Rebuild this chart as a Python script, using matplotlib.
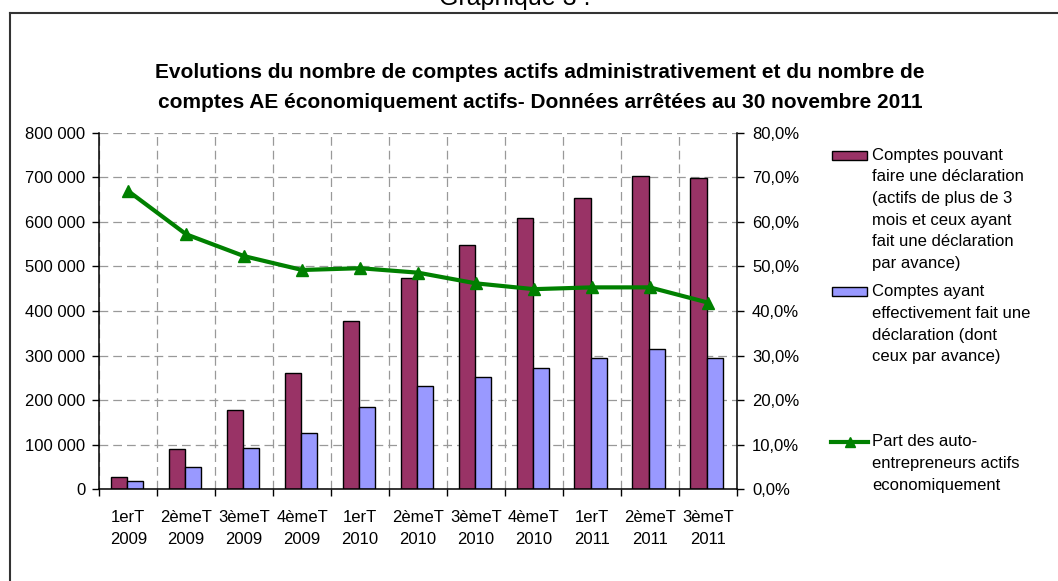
import matplotlib
matplotlib.use("Agg")
import matplotlib.pyplot as plt
from matplotlib.patches import Rectangle
from matplotlib.lines import Line2D
from matplotlib.ticker import FuncFormatter, MultipleLocator
import numpy as np

plt.rcParams['font.family'] = ['Liberation Sans', 'DejaVu Sans']

categories = ["1erT\n2009", "2èmeT\n2009", "3èmeT\n2009", "4èmeT\n2009",
              "1erT\n2010", "2èmeT\n2010", "3èmeT\n2010", "4èmeT\n2010",
              "1erT\n2011", "2èmeT\n2011", "3èmeT\n2011"]
comptes_pouvant = [27000, 90000, 179000, 260000, 377000, 474000, 547000,
                   608000, 653000, 702000, 699000]
comptes_ayant = [18000, 51000, 93000, 127000, 185000, 231000, 253000,
                 273000, 295000, 315000, 295000]
part_actifs = [0.669, 0.572, 0.523, 0.492, 0.496, 0.486, 0.462,
               0.449, 0.453, 0.453, 0.419]

label_pouvant = ["Comptes pouvant", "faire une déclaration", "(actifs de plus de 3",
                 "mois et ceux ayant", "fait une déclaration", "par avance)"]
label_ayant = ["Comptes ayant", "effectivement fait une", "déclaration (dont",
               "ceux par avance)"]
label_part = ["Part des auto-", "entrepreneurs actifs", "economiquement"]

title_lines = ["Evolutions du nombre de comptes actifs administrativement et du nombre de",
               "comptes AE économiquement actifs- Données arrêtées au 30 novembre 2011"]

W, H = 1058, 581
fig = plt.figure(figsize=(W / 100, H / 100), dpi=100)

def fx(px):
    return px / W

def fy(py):
    return 1 - py / H

ax = fig.add_axes([fx(99.3), fy(489.3), fx(736.7) - fx(99.3), fy(132.7) - fy(489.3)])

x = np.arange(len(categories))
bw = 0.28
maroon = "#993366"
blue = "#9999FF"
green = "#008000"
ax.bar(x - 0.16, comptes_pouvant, bw, color=maroon, edgecolor="black", linewidth=1, zorder=2)
ax.bar(x + 0.12, comptes_ayant, bw, color=blue, edgecolor="black", linewidth=1, zorder=2)

ax.set_xlim(-0.5, len(categories) - 0.5)
ax.set_ylim(0, 800000)
ax.yaxis.set_major_locator(MultipleLocator(100000))
ax.yaxis.set_major_formatter(FuncFormatter(lambda v, p: f"{int(v):,}".replace(",", " ")))

ax.set_xticks(np.arange(-0.5, len(categories), 1.0))
ax.set_xticklabels([])
ax.set_xticks(x, minor=True)
ax.set_xticklabels(categories, minor=True, linespacing=1.55)
ax.tick_params(axis='x', which='major', direction='out', length=5, width=1)
ax.tick_params(axis='x', which='minor', length=0, pad=15, labelsize=12)
ax.tick_params(axis='y', direction='out', length=5, width=1, labelsize=12, pad=5)

ax.set_axisbelow(True)
ax.grid(True, which='major', color="#999999", linestyle=(0, (7, 4)), linewidth=0.9)
ax.spines['top'].set_visible(False)
ax.spines['right'].set_visible(False)
ax.spines['left'].set_linewidth(1.1)
ax.spines['bottom'].set_linewidth(1.1)

ax2 = ax.twinx()
ax2.plot(x, part_actifs, color=green, linewidth=3, marker='^', markersize=8, zorder=3)
ax2.set_ylim(0, 0.8)
ax2.yaxis.set_major_locator(MultipleLocator(0.1))
ax2.yaxis.set_major_formatter(FuncFormatter(lambda v, p: f"{v*100:.1f}%".replace(".", ",")))
ax2.tick_params(axis='y', direction='out', length=5, width=1, labelsize=12, pad=6)
ax2.spines['top'].set_visible(False)
ax2.spines['left'].set_visible(False)
ax2.spines['bottom'].set_visible(False)
ax2.spines['right'].set_linewidth(1.1)

# outer frame
fig.add_artist(Line2D([fx(9.5), fx(9.5)], [0, fy(13)], color="#333333", linewidth=1.5))
fig.add_artist(Line2D([fx(9.5), 1], [fy(13), fy(13)], color="#333333", linewidth=1.5))

# header and title
fig.text(fx(515), fy(5), "Graphique 3 :", ha='center', va='baseline', fontsize=18)
fig.text(fx(540), fy(73), title_lines[0], ha='center', va='center', fontsize=15, fontweight='bold')
fig.text(fx(540), fy(103), title_lines[1], ha='center', va='center', fontsize=15, fontweight='bold')

# legend (manual)
step = 21.7
def legend_block(lines, y0):
    for i, t in enumerate(lines):
        fig.text(fx(872.5), fy(y0 + i * step), t, ha='left', va='center', fontsize=12)

fig.add_artist(Rectangle((fx(832), fy(160)), fx(867) - fx(832), fy(151.5) - fy(160),
                         facecolor=maroon, edgecolor="black", linewidth=1, transform=fig.transFigure))
legend_block(label_pouvant, 155)
fig.add_artist(Rectangle((fx(832), fy(296)), fx(867) - fx(832), fy(287.5) - fy(296),
                         facecolor=blue, edgecolor="black", linewidth=1, transform=fig.transFigure))
legend_block(label_ayant, 291.7)
fig.add_artist(Line2D([fx(831), fx(868)], [fy(441.7), fy(441.7)], color=green, linewidth=3))
fig.add_artist(Line2D([fx(849.5)], [fy(441.7)], color=green, marker='^', markersize=7,
                      linestyle='None'))
legend_block(label_part, 441.7)

fig.savefig("out.png", dpi=100)
